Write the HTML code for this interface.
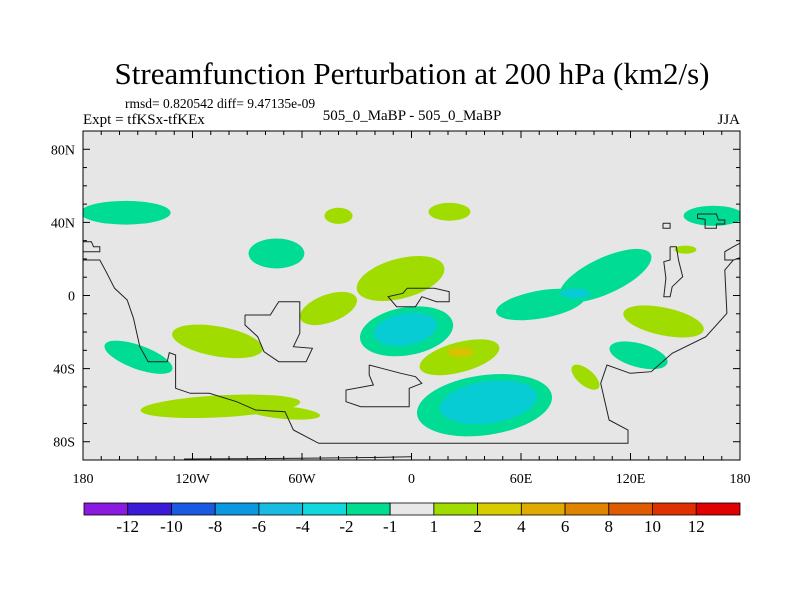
<!DOCTYPE html>
<html><head><meta charset="utf-8"><style>
body{margin:0;background:#fff}
svg{display:block}
text{font-family:"Liberation Serif",serif;fill:#000}
</style></head><body>
<svg id="chart" width="800" height="600" viewBox="0 0 800 600" xmlns="http://www.w3.org/2000/svg">
<text x="412" y="84" font-size="31" text-anchor="middle">Streamfunction Perturbation at 200 hPa (km2/s)</text>
<text x="125" y="108" font-size="13.5">rmsd= 0.820542 diff= 9.47135e-09</text>
<text x="83" y="124" font-size="15">Expt = tfKSx-tfKEx</text>
<text x="412" y="120" font-size="15" text-anchor="middle">505_0_MaBP - 505_0_MaBP</text>
<text x="740" y="124" font-size="15" text-anchor="end">JJA</text>
<defs><clipPath id="clip"><rect x="83" y="131" width="657" height="329"/></clipPath></defs>
<rect x="83" y="131" width="657" height="329" fill="#e6e6e6"/>
<g id="blobs" clip-path="url(#clip)"></g>
<g id="coast" clip-path="url(#clip)" fill="none" stroke="#222" stroke-width="1"></g>
<rect x="83" y="131" width="657" height="329" fill="none" stroke="#000" stroke-width="1"/>
<g id="axes"></g>
<g id="colorbar"></g>
</svg>
<script>
// contour blob data: center lon, center lat, radius lon (deg), radius lat (deg), level
const blobLon=[-156.7,165.5,-40,20.8,-74,-45.5,-6,-2.7,-3.3,26.3,26.8,40,42.2,70.7,106.3,89.9,138.1,124.4,95.3,150.1,-149.6,-106.3,-104.7,-70];
const blobLat=[45.3,43.6,43.6,45.8,23,-7.1,9.3,-19.6,-18.5,-33.8,-31,-60,-58.4,-4.9,10.9,1.1,-14.2,-32.7,-44.7,25.1,-33.8,-25.1,-60.6,-64];
const blobRLon=[24.7,16.4,7.7,11.5,15.3,16.4,24.7,25.8,17.5,22.5,7.1,37.3,26.8,24.7,27.4,8.2,22.5,16.4,9.3,6,19.7,25.2,43.8,20];
const blobRLat=[6.5,5.5,4.4,4.9,8.2,7.6,10.9,13.1,8.7,8.2,2.7,16.4,11.5,7.6,9.8,2.7,7.6,6.5,4.4,2.2,6.5,8.2,6,3.5];
const blobRot=[0,0,0,0,0,-20,-15,-10,-10,-15,0,-8,-8,-10,-25,0,12,15,40,0,20,10,-3,5];
const blobLevel=[-1,-1,1,1,-1,1,1,-1,-2,1,2,-1,-2,-1,-1,-2,1,-1,1,1,-1,1,1,1];
const cbLabels=["-12","-10","-8","-6","-4","-2","-1","1","2","4","6","8","10","12"];
const cbColors=["#8a1ae0","#3a1ad8","#1a5ae0","#0a98e0","#18bce0","#10d8dc","#00dc90","#e8e8e8","#a0dc00","#d8cc00","#e0aa00","#e08400","#e05a00","#e03000","#e00000"];
const lonTicks=[-180,-120,-60,0,60,120,180];
const lonTickLabels=["180","120W","60W","0","60E","120E","180"];
const latTicks=[80,40,0,-40,-80];
const latTickLabels=["80N","40N","0","40S","80S"];
const levelColor={"-2":"#08ccd4","-1":"#00dc94","1":"#a0dc00","2":"#d4c400"};

const NS="http://www.w3.org/2000/svg";
const X0=83,X1=740,Y0=131,Y1=460;
const xs=lon=>X0+(lon+180)/360*(X1-X0);
const ys=lat=>Y0+(90-lat)/180*(Y1-Y0);
const kx=(X1-X0)/360, ky=(Y1-Y0)/180;
function mk(tag,attrs,parent){const e=document.createElementNS(NS,tag);for(const k in attrs)e.setAttribute(k,attrs[k]);parent.appendChild(e);return e;}

const gB=document.getElementById('blobs');
// draw lower levels first (|level|==1) then inner levels
const order=blobLevel.map((l,i)=>i).sort((a,b)=>Math.abs(blobLevel[a])-Math.abs(blobLevel[b]));
order.forEach(i=>{
  const cx=xs(blobLon[i]),cy=ys(blobLat[i]);
  const e=mk('ellipse',{cx:cx,cy:cy,rx:blobRLon[i]*kx,ry:blobRLat[i]*ky,fill:levelColor[blobLevel[i]],transform:`rotate(${blobRot[i]} ${cx} ${cy})`},gB);
  
  
});

// coastlines (traced in zoom coordinates of map region)
const coastLines=[
 [[0,180],[40,180],[55,215],[75,265],[105,300],[120,355],[135,440],[155,485],[200,485],[205,458],[220,465],[220,565],[255,580],[300,580],[365,605],[410,630],[480,635],[500,690],[560,730],[1295,730],[1295,690],[1250,660],[1230,550],[1245,495],[1300,520],[1350,515],[1400,460],[1480,410],[1530,340],[1525,210],[1545,180],[1568,170]],
 [[385,345],[445,345],[465,305],[515,305],[515,400],[500,440],[545,445],[530,485],[465,485],[430,455],[415,410],[385,375],[385,345]],
 [[680,495],[710,505],[755,520],[790,530],[805,550],[775,565],[775,620],[660,620],[625,605],[625,570],[690,555],[680,525],[680,495]],
 [[770,265],[835,265],[870,275],[870,305],[840,305],[805,290],[790,320],[745,320],[725,290],[760,280],[770,265]],
 [[1395,140],[1410,140],[1415,180],[1425,230],[1400,260],[1395,290],[1380,290],[1385,235],[1380,185],[1395,180],[1395,140]],
 [[1460,42],[1505,42],[1510,60],[1525,60],[1525,72],[1505,72],[1505,85],[1478,85],[1478,58],[1460,55],[1460,42]],
 [[1378,70],[1395,70],[1395,85],[1378,85],[1378,70]],
 [[0,125],[20,125],[25,140],[40,140],[40,155],[0,155]],
 [[1568,125],[1545,140],[1525,155],[1525,180],[1545,180]],
 [[240,777],[520,775],[720,772],[780,770]]
];
const gC=document.getElementById('coast');
coastLines.forEach((ln,i)=>{
  const p=mk('polyline',{points:ln.map(q=>(83+q[0]/2.376).toFixed(1)+','+(200+q[1]/3).toFixed(1)).join(' ')},gC);
  
  
});

// axes
const gA=document.getElementById('axes');
for(let lon=-180;lon<=180;lon+=10){
  const x=xs(lon),major=lon%60===0,L=major?7:4;
  mk('line',{x1:x,y1:Y0,x2:x,y2:Y0+L,stroke:'#000'},gA);
  mk('line',{x1:x,y1:Y1,x2:x,y2:Y1-L,stroke:'#000'},gA);
}
for(let lat=-90;lat<=90;lat+=10){
  const y=ys(lat),major=lat%40===0,L=major?7:4;
  mk('line',{x1:X0,y1:y,x2:X0+L,y2:y,stroke:'#000'},gA);
  mk('line',{x1:X1,y1:y,x2:X1-L,y2:y,stroke:'#000'},gA);
}
lonTicks.forEach((v,i)=>{
  const t=mk('text',{x:xs(v),y:483,'font-size':14,'text-anchor':'middle'},gA);
  t.textContent=lonTickLabels[i];
  
  
});
latTicks.forEach((v,i)=>{
  const t=mk('text',{x:75,y:ys(v)+5,'font-size':14,'text-anchor':'end'},gA);
  t.textContent=latTickLabels[i];
  
  
});

// colorbar
const gCB=document.getElementById('colorbar');
const cbX0=84,cbX1=740,cbY=503,cbH=12,bw=(cbX1-cbX0)/cbColors.length;
cbColors.forEach((c,i)=>{
  const r=mk('rect',{x:cbX0+i*bw,y:cbY,width:bw,height:cbH,fill:c,stroke:'#000','stroke-width':0.8},gCB);
  
  
});
cbLabels.forEach((l,i)=>{
  const t=mk('text',{x:cbX0+(i+1)*bw,y:532,'font-size':17,'text-anchor':'middle'},gCB);
  t.textContent=l;
  
  
});
</script>
</body></html>
